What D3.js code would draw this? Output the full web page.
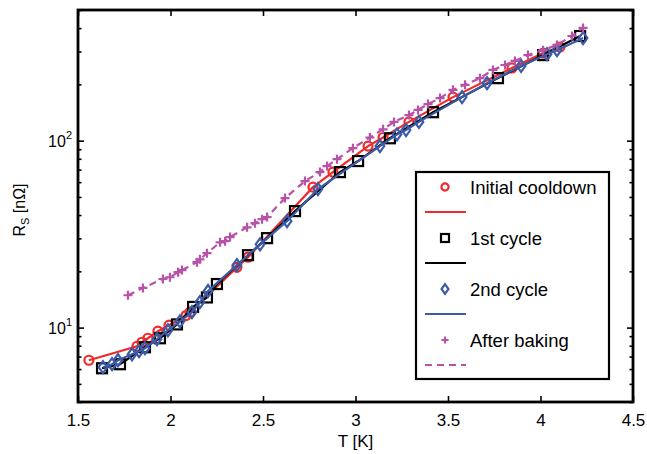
<!DOCTYPE html>
<html>
<head>
<meta charset="utf-8">
<script src="https://cdn.jsdelivr.net/npm/d3@7"></script>
<style>
  html, body { margin: 0; padding: 0; background: #fff; }
  svg { display: block; font-family: "Liberation Sans", Arial, Helvetica, sans-serif; }
</style>
</head>
<body>
<svg id="chart" width="647" height="454"></svg>
<script>
// Surface resistance vs temperature for four measurement runs
const initialT = [1.559, 1.819, 1.846, 1.878, 1.932, 1.992, 2.084, 2.105, 2.359, 2.419, 2.770, 2.878, 3.068, 3.149, 3.289, 3.527, 3.846, 4.014, 4.105];
const initialR = [6.69, 7.95, 8.35, 8.77, 9.57, 10.3, 11.6, 12.1, 21.0, 23.8, 56.4, 67.9, 93.5, 104, 126, 171, 245, 294, 317];

const cycle1T = [1.630, 1.727, 1.862, 1.943, 2.035, 2.122, 2.197, 2.251, 2.419, 2.522, 2.673, 2.916, 3.014, 3.186, 3.419, 3.770, 4.014, 4.214];
const cycle1R = [6.06, 6.37, 7.85, 8.77, 10.4, 12.9, 14.5, 17.1, 24.4, 30.1, 42.0, 67.9, 77.8, 103, 142, 216, 287, 363];

const cycle2T = [1.635, 1.684, 1.716, 1.792, 1.830, 1.862, 1.927, 1.986, 2.051, 2.116, 2.159, 2.203, 2.359, 2.484, 2.630, 2.797, 3.132, 3.224, 3.273, 3.343, 3.576, 3.711, 3.895, 4.035, 4.089, 4.230];
const cycle2R = [6.14, 6.37, 6.69, 7.20, 7.48, 7.76, 8.67, 9.68, 10.8, 12.1, 13.7, 15.7, 21.6, 27.9, 37.1, 55.1, 93.5, 108, 114, 126, 171, 203, 251, 290, 305, 354];

const bakedT = [1.770, 1.851, 1.959, 1.997, 2.041, 2.062, 2.143, 2.159, 2.197, 2.268, 2.295, 2.322, 2.414, 2.457, 2.495, 2.522, 2.619, 2.727, 2.808, 2.846, 2.900, 2.986, 3.078, 3.149, 3.208, 3.289, 3.338, 3.392, 3.457, 3.527, 3.592, 3.673, 3.743, 3.808, 3.862, 3.932, 4.014, 4.089, 4.170, 4.230];
const bakedR = [14.9, 16.3, 18.2, 18.6, 19.8, 20.3, 22.4, 23.2, 25.0, 28.6, 29.0, 30.5, 34.4, 36.2, 38.0, 39.0, 49.3, 60.8, 67.9, 73.1, 79.6, 91.2, 104, 115, 126, 137, 146, 157, 169, 187, 199, 216, 239, 254, 267, 287, 305, 325, 363, 401];

const xTicks = [1.5, 2, 2.5, 3, 3.5, 4, 4.5];
const yMajor = [10, 100];
const yMinor = [4, 5, 6, 7, 8, 9, 20, 30, 40, 50, 60, 70, 80, 90, 200, 300, 400, 500];

const seriesNames = ["Initial cooldown", "1st cycle", "2nd cycle", "After baking"];

const svg = d3.select("#chart");
const L = 78, R = 633, T = 10, B = 402;

const x = d3.scaleLinear().domain([1.5, 4.5]).range([L, R]);
const y = d3.scaleLog().domain([4, 500]).range([B, T]);

const series = [
  { name: seriesNames[0], t: initialT, r: initialR, color: "#ee2a2a", marker: "circle", dash: null },
  { name: seriesNames[1], t: cycle1T, r: cycle1R, color: "#000000", marker: "square", dash: null },
  { name: seriesNames[2], t: cycle2T, r: cycle2R, color: "#3c5ca8", marker: "diamond", dash: null },
  { name: seriesNames[3], t: bakedT, r: bakedR, color: "#b851a8", marker: "plus", dash: "7,5" }
];

function drawMarker(g, kind, cx, cy, color, s) {
  const k = s || 1;
  const sw = 2.2;
  if (kind === "circle") {
    g.append("circle").attr("cx", cx).attr("cy", cy).attr("r", 4.5 * k)
      .attr("fill", "none").attr("stroke", color).attr("stroke-width", sw);
  } else if (kind === "square") {
    const h = 5 * k;
    g.append("rect").attr("x", cx - h).attr("y", cy - h).attr("width", 2 * h).attr("height", 2 * h)
      .attr("fill", "none").attr("stroke", color).attr("stroke-width", sw);
  } else if (kind === "diamond") {
    const h = 6 * k;
    g.append("path").attr("d", `M${cx},${cy - h}L${cx + h * 0.72},${cy}L${cx},${cy + h}L${cx - h * 0.72},${cy}Z`)
      .attr("fill", "none").attr("stroke", color).attr("stroke-width", sw);
  } else if (kind === "plus") {
    const h = 4.5 * k;
    g.append("path").attr("d", `M${cx - h},${cy}H${cx + h}M${cx},${cy - h}V${cy + h}`)
      .attr("fill", "none").attr("stroke", color).attr("stroke-width", sw);
  }
}

const plot = svg.append("g");
const line = d3.line().x(d => x(d[0])).y(d => y(d[1]));

series.forEach(s => {
  const pts = s.t.map((t, i) => [t, s.r[i]]);
  const g = plot.append("g");
  pts.forEach(p => drawMarker(g, s.marker, x(p[0]), y(p[1]), s.color));
  g.append("path").datum(pts).attr("d", line)
    .attr("fill", "none").attr("stroke", s.color).attr("stroke-width", 2.2)
    .attr("stroke-dasharray", s.dash);
});

// Axes frame and inward ticks
const bottomAxis = d3.axisBottom(x).tickValues(xTicks).tickSizeInner(-6).tickSizeOuter(0)
  .tickPadding(12).tickFormat(d3.format("~g"));
const topAxis = d3.axisTop(x).tickValues(xTicks).tickSizeInner(-6).tickSizeOuter(0).tickFormat("");
const gb = svg.append("g").attr("transform", `translate(0,${B})`).call(bottomAxis);
const gt = svg.append("g").attr("transform", `translate(0,${T})`).call(topAxis);

const leftMajor = d3.axisLeft(y).tickValues(yMajor).tickSizeInner(-6).tickSizeOuter(0).tickFormat("");
const leftMinor = d3.axisLeft(y).tickValues(yMinor).tickSizeInner(-3.5).tickSizeOuter(0).tickFormat("");
const rightMajor = d3.axisRight(y).tickValues(yMajor).tickSizeInner(-6).tickSizeOuter(0).tickFormat("");
const rightMinor = d3.axisRight(y).tickValues(yMinor).tickSizeInner(-3.5).tickSizeOuter(0).tickFormat("");
const gl1 = svg.append("g").attr("transform", `translate(${L},0)`).call(leftMajor);
const gl2 = svg.append("g").attr("transform", `translate(${L},0)`).call(leftMinor);
const gr1 = svg.append("g").attr("transform", `translate(${R},0)`).call(rightMajor);
const gr2 = svg.append("g").attr("transform", `translate(${R},0)`).call(rightMinor);

[gb, gt, gl1, gl2, gr1, gr2].forEach(g => {
  g.select(".domain").remove();
  g.selectAll(".tick line").attr("stroke", "#000").attr("stroke-width", 1.6);
});
gb.selectAll(".tick text").attr("font-size", 17).attr("fill", "#000")
  .attr("font-family", "'Liberation Sans', Arial, sans-serif");

// y tick labels as powers of ten
yMajor.forEach(v => {
  const t = svg.append("text").attr("x", L - 6).attr("y", y(v) + 6)
    .attr("text-anchor", "end").attr("font-size", 16).attr("fill", "#000");
  t.append("tspan").text("10");
  t.append("tspan").attr("font-size", 11).attr("dy", -8).text(Math.round(Math.log10(v)));
});

svg.append("rect").attr("x", L).attr("y", T).attr("width", R - L).attr("height", B - T)
  .attr("fill", "none").attr("stroke", "#000").attr("stroke-width", 2.8);

// Axis titles
svg.append("text").attr("x", (L + R) / 2).attr("y", 447).attr("text-anchor", "middle")
  .attr("font-size", 17).attr("fill", "#000").text("T [K]");

const yl = svg.append("text").attr("transform", `translate(25,${(T + B) / 2 + 4}) rotate(-90)`)
  .attr("text-anchor", "middle").attr("font-size", 16).attr("fill", "#000");
yl.append("tspan").text("R");
yl.append("tspan").attr("font-size", 11).attr("dy", 4).text("S");
yl.append("tspan").attr("dy", -4).text(" [nΩ]");

// Legend
const lg = svg.append("g");
lg.append("rect").attr("x", 416).attr("y", 172).attr("width", 193).attr("height", 207)
  .attr("fill", "#fff").attr("stroke", "#000").attr("stroke-width", 2.2);
series.forEach((s, i) => {
  const yt = 187 + i * 51;
  drawMarker(lg, s.marker, 445, yt, s.color, 0.8);
  lg.append("text").attr("x", 470).attr("y", yt + 7).attr("font-size", 18.5).attr("fill", "#000").text(s.name);
  lg.append("line").attr("x1", 425).attr("x2", 466).attr("y1", yt + 25).attr("y2", yt + 25)
    .attr("stroke", s.color).attr("stroke-width", 2.2).attr("stroke-dasharray", s.dash);
});
</script>
</body>
</html>
